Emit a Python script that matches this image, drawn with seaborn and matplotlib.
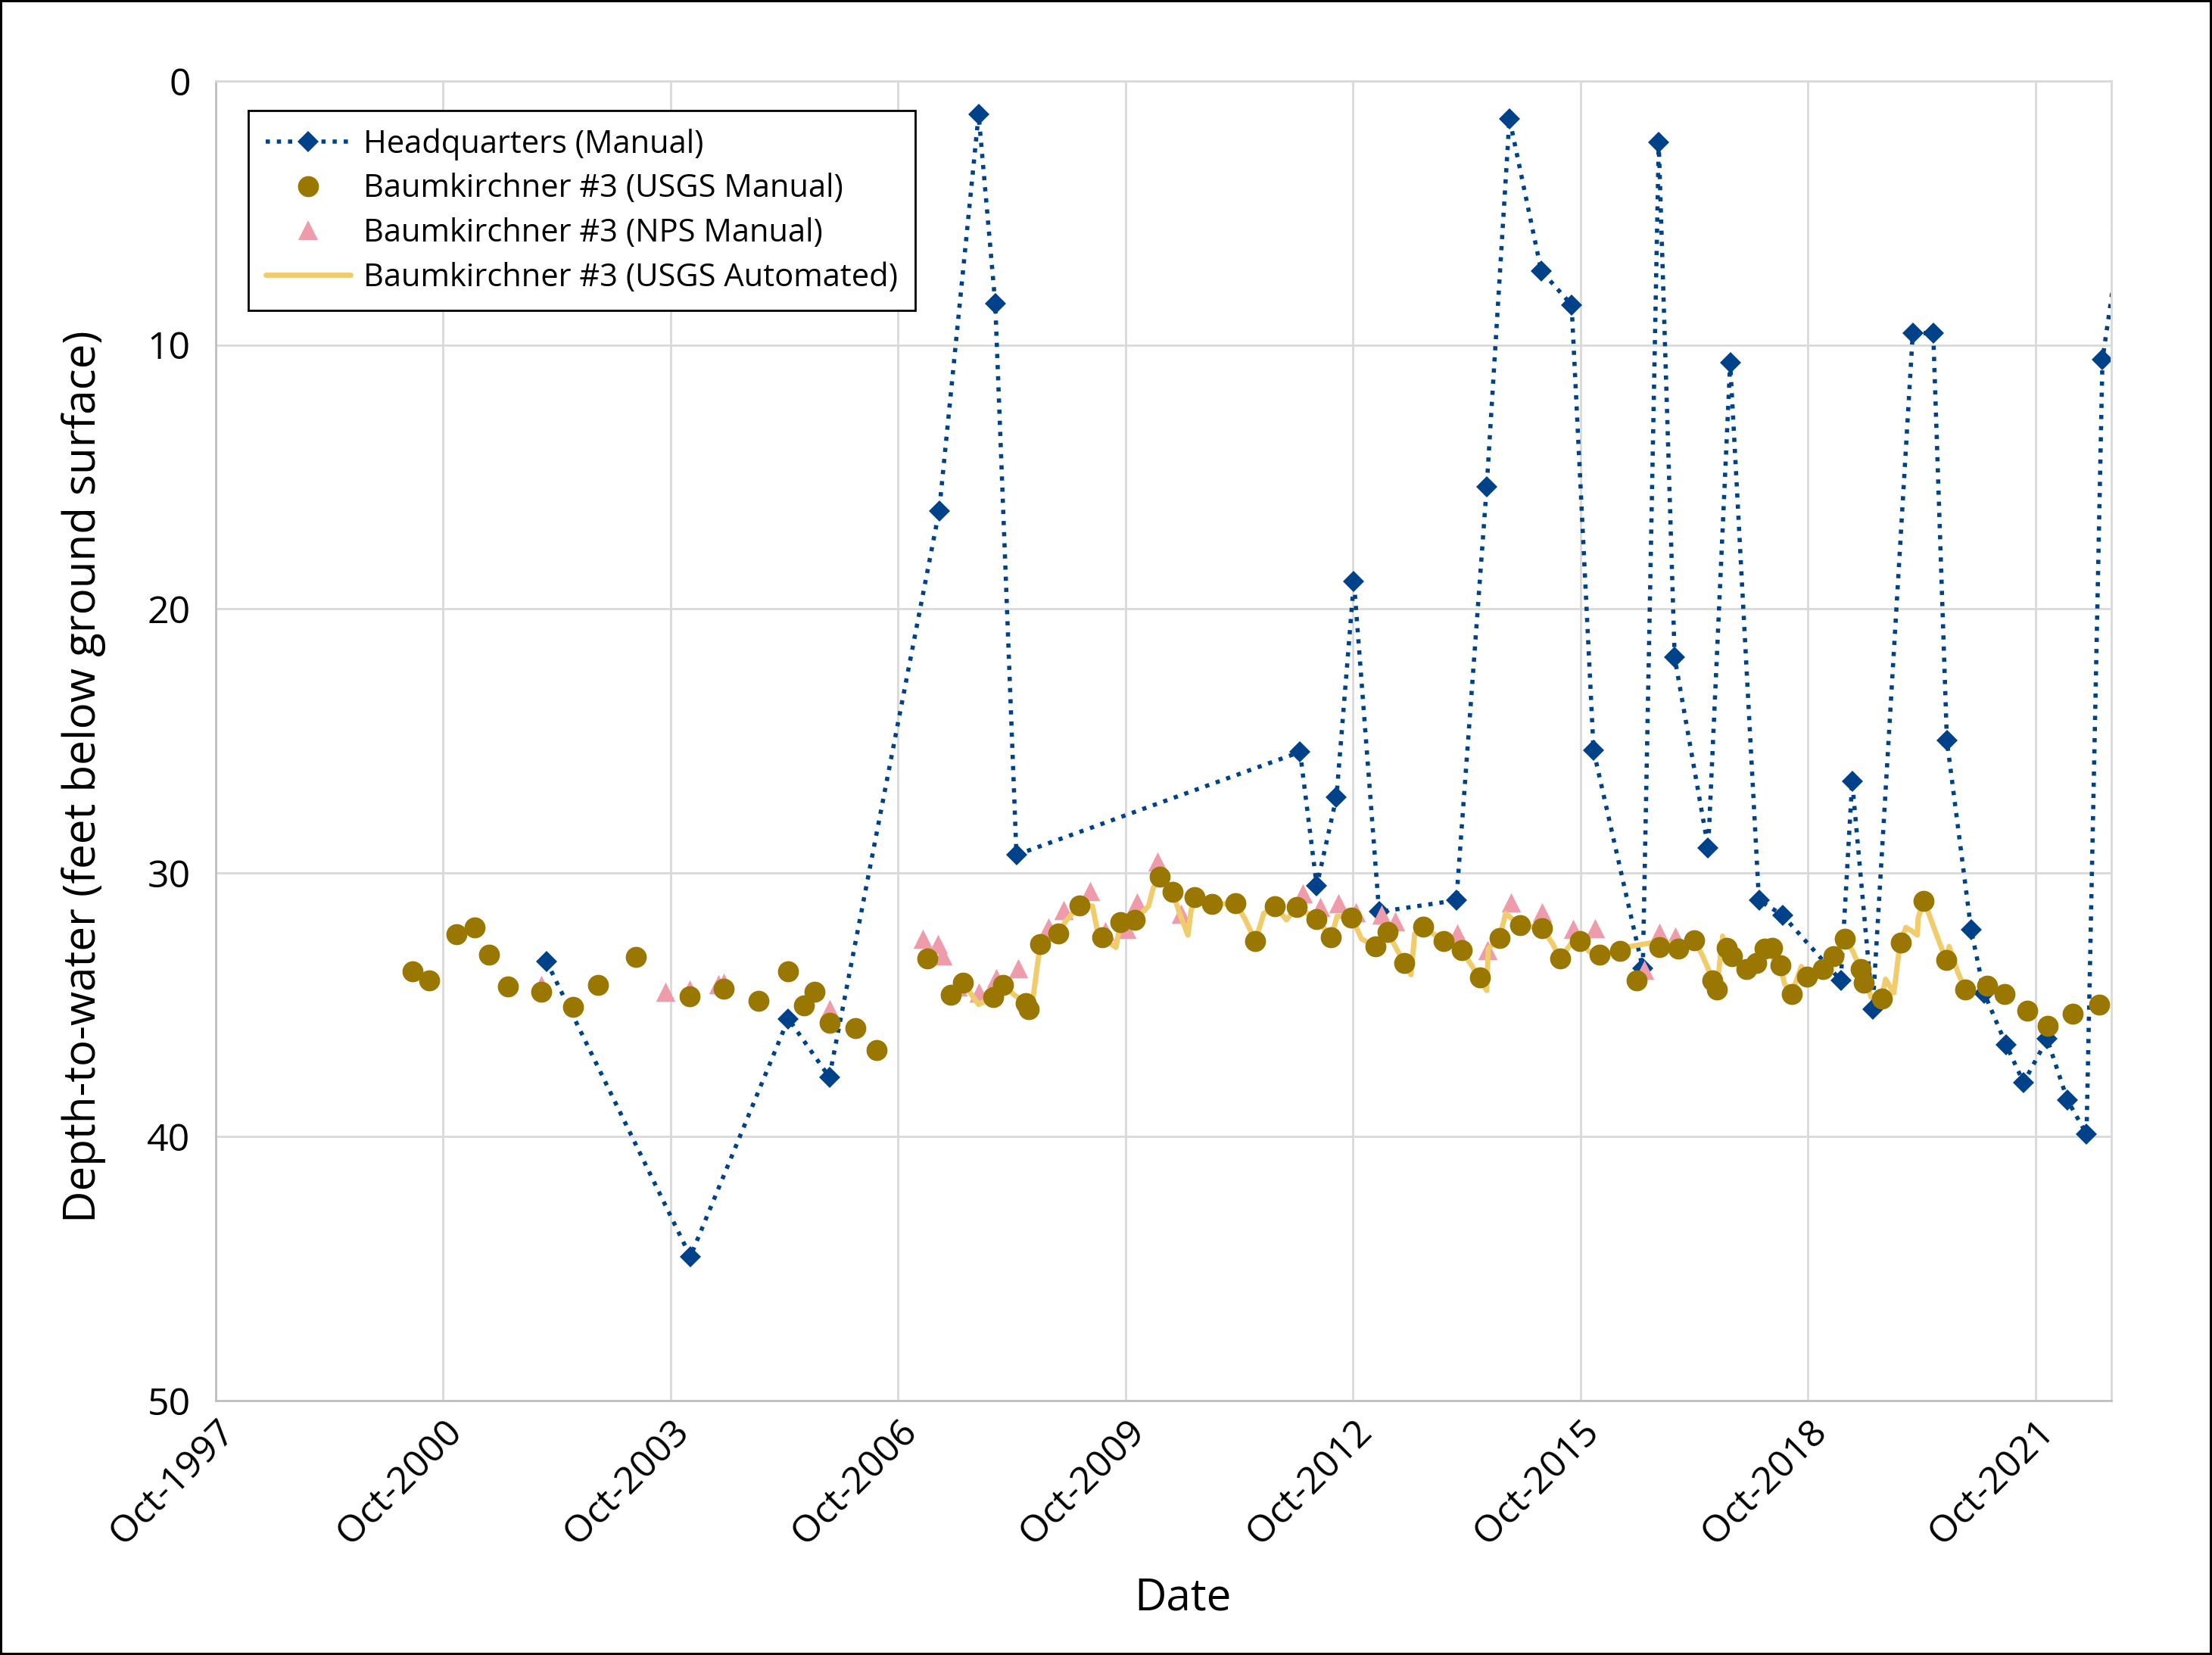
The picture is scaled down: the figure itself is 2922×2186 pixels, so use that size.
import numpy as np
import pandas as pd
import seaborn as sns
import matplotlib.pyplot as plt
import matplotlib.dates as mdates
from matplotlib.lines import Line2D
from datetime import datetime

# Headquarters (Manual) - decimal year, depth (ft below ground surface)
hq_year = [2002.11, 2004.01, 2005.30, 2005.84, 2007.29, 2007.81, 2008.03, 2008.31,
           2012.05, 2012.27, 2012.53, 2012.76, 2013.09, 2014.11, 2014.51, 2014.81,
           2015.23, 2015.63, 2015.92, 2016.57, 2016.78, 2016.99, 2017.43, 2017.72,
           2018.10, 2018.41, 2019.18, 2019.33, 2019.60, 2020.13, 2020.40, 2020.58,
           2020.90, 2021.07, 2021.36, 2021.59, 2021.90, 2022.17, 2022.42, 2022.63,
           2022.88]
hq_depth = [33.35, 44.54, 35.53, 37.74, 16.28, 1.26, 8.42, 29.32,
            25.42, 30.50, 27.13, 18.95, 31.48, 31.04, 15.37, 1.42,
            7.19, 8.48, 25.37, 33.63, 2.33, 21.84, 29.06, 10.67,
            31.04, 31.60, 34.08, 26.54, 35.16, 9.55, 9.55, 24.99,
            32.17, 34.56, 36.52, 37.95, 36.30, 38.62, 39.90, 10.56,
            5.6]

# Baumkirchner #3 (USGS Manual)
usgs_year = [2000.35, 2000.57, 2000.93, 2001.16, 2001.35, 2001.60, 2002.04, 2002.46,
             2002.79, 2003.29, 2004.00, 2004.45, 2004.91, 2005.30, 2005.51, 2005.65,
             2005.84, 2006.18, 2006.46, 2007.13, 2007.44, 2007.60, 2008.00, 2008.13,
             2008.43, 2008.47, 2008.62, 2008.86, 2009.14, 2009.44, 2009.68, 2009.87,
             2010.20, 2010.37, 2010.66, 2010.89, 2011.20, 2011.46, 2011.72, 2012.01,
             2012.27, 2012.46, 2012.73, 2013.04, 2013.20, 2013.42, 2013.67, 2013.94,
             2014.18, 2014.42, 2014.68, 2014.95, 2015.24, 2015.48, 2015.74, 2016.00,
             2016.27, 2016.49, 2016.79, 2017.04, 2017.25, 2017.49, 2017.55, 2017.67,
             2017.74, 2017.93, 2018.06, 2018.17, 2018.27, 2018.38, 2018.53, 2018.73,
             2018.94, 2019.08, 2019.23, 2019.44, 2019.48, 2019.72, 2019.97, 2020.27,
             2020.57, 2020.82, 2021.11, 2021.34, 2021.64, 2021.91, 2022.24, 2022.59]
usgs_depth = [33.72, 34.08, 32.33, 32.07, 33.09, 34.30, 34.50, 35.08,
              34.24, 33.18, 34.68, 34.39, 34.84, 33.73, 35.02, 34.50,
              35.68, 35.89, 36.72, 33.24, 34.62, 34.15, 34.70, 34.24,
              34.94, 35.18, 32.69, 32.31, 31.23, 32.45, 31.88, 31.78,
              30.14, 30.73, 30.92, 31.19, 31.16, 32.59, 31.26, 31.30,
              31.75, 32.45, 31.69, 32.79, 32.24, 33.41, 32.05, 32.58,
              32.93, 33.96, 32.48, 31.99, 32.09, 33.26, 32.58, 33.09,
              32.96, 34.08, 32.81, 32.88, 32.55, 34.08, 34.41, 32.83,
              33.17, 33.65, 33.41, 32.88, 32.83, 33.50, 34.60, 33.93,
              33.65, 33.17, 32.50, 33.65, 34.17, 34.77, 32.64, 31.08,
              33.31, 34.41, 34.27, 34.58, 35.22, 35.80, 35.35, 35.00]

# Baumkirchner #3 (NPS Manual)
nps_year = [2002.04, 2003.68, 2004.00, 2004.38, 2004.45, 2005.84, 2007.07, 2007.27,
            2007.33, 2007.53, 2007.81, 2008.04, 2008.33, 2008.73, 2008.93, 2009.28,
            2009.48, 2009.76, 2009.90, 2010.17, 2010.48, 2012.09, 2012.32, 2012.56,
            2012.79, 2013.12, 2013.30, 2014.12, 2014.52, 2014.83, 2015.24, 2015.65,
            2015.94, 2016.59, 2016.79, 2017.00]
nps_depth = [34.26, 34.50, 34.43, 34.21, 34.16, 35.16, 32.50, 32.69,
             33.12, 34.32, 34.55, 33.98, 33.63, 32.07, 31.40, 30.70,
             32.21, 32.12, 31.11, 29.58, 31.54, 30.78, 31.30, 31.16,
             31.49, 31.59, 31.85, 32.29, 32.93, 31.11, 31.49, 32.12,
             32.09, 33.69, 32.26, 32.40]

# Baumkirchner #3 (USGS Automated)
auto_year = [2007.60, 2007.81, 2008.00, 2008.13, 2008.27, 2008.43, 2008.53, 2008.62,
             2008.86, 2008.96, 2009.14, 2009.31, 2009.39, 2009.51, 2009.62, 2009.68,
             2009.87, 2010.05, 2010.11, 2010.20, 2010.37, 2010.46, 2010.57, 2010.61,
             2010.66, 2010.89, 2011.20, 2011.32, 2011.46, 2011.57, 2011.72, 2011.87,
             2012.01, 2012.27, 2012.46, 2012.54, 2012.73, 2012.86, 2013.04, 2013.20,
             2013.42, 2013.51, 2013.56, 2013.67, 2013.94, 2014.18, 2014.32, 2014.51,
             2014.53, 2014.68, 2014.76, 2014.95, 2015.24, 2015.38, 2015.48, 2015.62,
             2015.74, 2015.86, 2016.00, 2016.27, 2016.41, 2016.71, 2017.03, 2017.25,
             2017.36, 2017.51, 2017.57, 2017.62, 2017.67, 2017.74, 2017.93, 2018.17,
             2018.38, 2018.44, 2018.53, 2018.66, 2018.73, 2018.94, 2019.08, 2019.23,
             2019.34, 2019.44, 2019.58, 2019.72, 2019.77, 2019.88, 2019.96, 2020.04,
             2020.12, 2020.19, 2020.20, 2020.27, 2020.34, 2020.45, 2020.57, 2020.61,
             2020.72, 2020.82]
auto_depth = [34.15, 34.99, 34.70, 34.24, 34.60, 34.94, 34.70, 32.79,
              32.31, 31.83, 31.23, 31.26, 32.40, 32.60, 32.83, 31.88,
              31.78, 31.26, 30.59, 30.14, 30.73, 31.54, 32.36, 31.45,
              30.92, 31.19, 31.16, 31.73, 32.59, 31.54, 31.26, 31.78,
              31.30, 31.75, 32.45, 31.64, 31.69, 32.50, 32.79, 32.24,
              33.41, 33.86, 32.31, 32.05, 32.58, 32.93, 33.55, 34.46,
              32.88, 32.48, 31.54, 31.99, 32.09, 32.69, 33.26, 32.69,
              32.58, 32.98, 33.09, 32.96, 32.79, 32.64, 32.69, 32.55,
              33.17, 34.17, 33.74, 32.40, 32.83, 33.17, 33.65, 32.88,
              33.50, 34.22, 34.60, 33.55, 33.93, 33.65, 33.17, 32.50,
              32.98, 33.65, 34.70, 34.77, 34.03, 34.55, 32.69, 32.07,
              32.21, 32.36, 31.73, 31.08, 31.54, 32.40, 33.31, 32.79,
              33.74, 34.41]

labels = ['Headquarters (Manual)', 'Baumkirchner #3 (USGS Manual)',
          'Baumkirchner #3 (NPS Manual)', 'Baumkirchner #3 (USGS Automated)']

BLUE = '#00428A'
GOLD = '#997700'
PINK = '#EE9CAB'
YELLOW = '#F0CC6C'


def to_date(years):
    years = np.asarray(years, dtype=float)
    whole = np.floor(years).astype(int)
    base = pd.to_datetime(whole.astype(str), format='%Y')
    return base + pd.to_timedelta((years - whole) * 365.25, unit='D')


hq = pd.DataFrame({'date': to_date(hq_year), 'depth': hq_depth})
usgs = pd.DataFrame({'date': to_date(usgs_year), 'depth': usgs_depth})
nps = pd.DataFrame({'date': to_date(nps_year), 'depth': nps_depth})
auto = pd.DataFrame({'date': to_date(auto_year), 'depth': auto_depth})

sns.set_theme(style='white')
plt.rcParams['font.family'] = ['Open Sans', 'DejaVu Sans']

fig, ax = plt.subplots(figsize=(14.61, 10.93), dpi=200)
fig.subplots_adjust(left=0.0975, right=0.9545, top=0.951, bottom=0.1537)
fig.patch.set_edgecolor('black')
fig.patch.set_linewidth(2)

sns.lineplot(data=hq, x='date', y='depth', ax=ax, color=BLUE, linestyle=':',
             linewidth=2, marker='D', markersize=7, markeredgewidth=0,
             estimator=None, sort=False, zorder=2)
sns.scatterplot(data=nps, x='date', y='depth', ax=ax, color=PINK, marker='^',
                s=85, linewidth=0, zorder=3)
sns.lineplot(data=auto, x='date', y='depth', ax=ax, color=YELLOW, linewidth=2.5,
             estimator=None, sort=False, zorder=4)
sns.scatterplot(data=usgs, x='date', y='depth', ax=ax, color=GOLD, marker='o',
                s=100, linewidth=0, zorder=5)

ax.set_ylim(50, 0)
ax.set_yticks(range(0, 51, 10))
ax.set_xlim(datetime(1997, 10, 1), datetime(2022, 10, 1))
ax.set_xticks([datetime(y, 10, 1) for y in range(1997, 2022, 3)])
ax.xaxis.set_major_formatter(mdates.DateFormatter('%b-%Y'))

ax.grid(True, color='#D9D9D9', linewidth=1.0)
ax.set_axisbelow(True)
for side in ['top', 'right']:
    ax.spines[side].set_color('#D9D9D9')
    ax.spines[side].set_linewidth(1.0)
for side in ['left', 'bottom']:
    ax.spines[side].set_color('#BFBFBF')
    ax.spines[side].set_linewidth(1.0)

ax.tick_params(axis='y', length=0, pad=12, labelsize=18, labelcolor='black')
ax.tick_params(axis='x', length=0, pad=6, labelsize=18, labelcolor='black')
plt.setp(ax.get_xticklabels(), rotation=45, ha='right', va='top',
         rotation_mode='anchor')

ax.set_xlabel('Date', fontsize=21, color='black')
ax.set_ylabel('Depth-to-water (feet below ground surface)', fontsize=21, color='black')
ax.xaxis.set_label_coords(0.51, -0.133)
ax.yaxis.set_label_coords(-0.058, 0.473)

handles = [
    Line2D([], [], color=BLUE, linestyle=':', linewidth=2, marker='D',
           markersize=7, markeredgewidth=0),
    Line2D([], [], color=GOLD, linestyle='none', marker='o', markersize=10,
           markeredgewidth=0),
    Line2D([], [], color=PINK, linestyle='none', marker='^', markersize=9.2,
           markeredgewidth=0),
    Line2D([], [], color=YELLOW, linewidth=2.5),
]
leg = ax.legend(handles, labels, loc='upper left', bbox_to_anchor=(0.0172, 0.9776),
                borderaxespad=0, fontsize=15, handlelength=2.7, handletextpad=0.4,
                labelspacing=0.4, borderpad=0.55, fancybox=False, framealpha=1,
                edgecolor='black')
leg.get_frame().set_linewidth(1.0)
for t in leg.get_texts():
    t.set_color('black')

fig.savefig('out.png', dpi=200)
